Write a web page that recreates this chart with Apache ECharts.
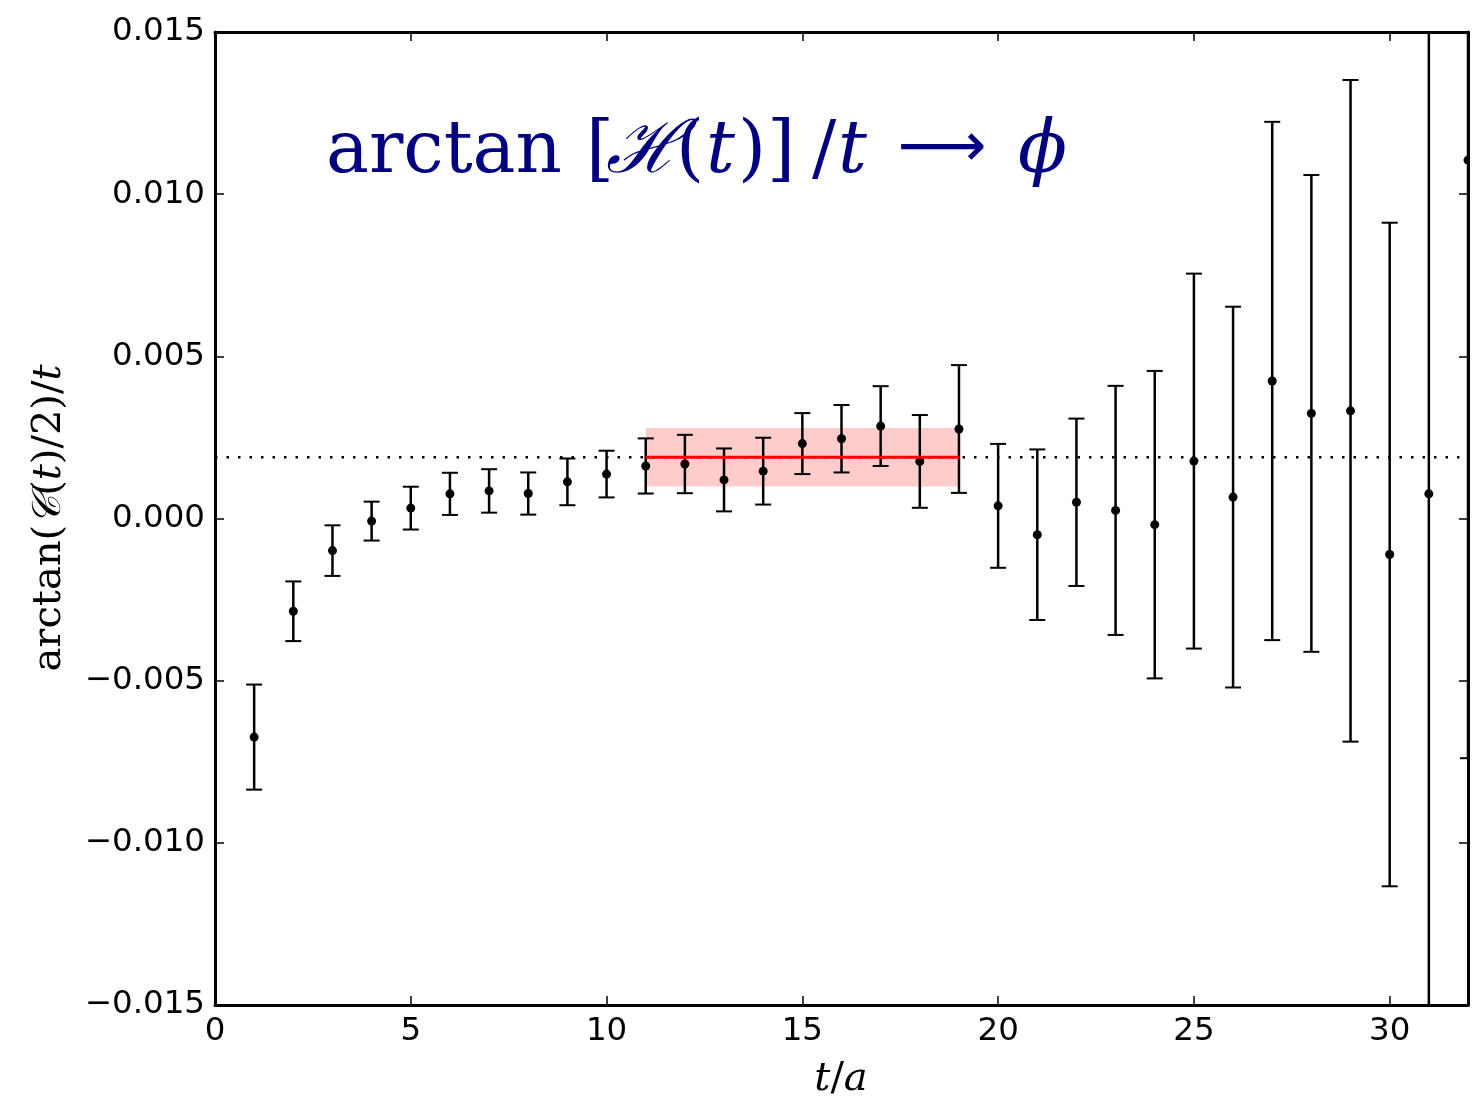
<!DOCTYPE html>
<html>
<head>
<meta charset="utf-8">
<script src="https://cdn.jsdelivr.net/npm/echarts@6/dist/echarts.min.js"></script>
<style>
  html, body { margin: 0; padding: 0; background: #fff; }
  #chart { width: 1481px; height: 1105px; }
</style>
</head>
<body>
<div id="chart"></div>
<script>
// Time slices t/a
const times = [1, 2, 3, 4, 5, 6, 7, 8, 9, 10, 11, 12, 13, 14, 15, 16,
               17, 18, 19, 20, 21, 22, 23, 24, 25, 26, 27, 28, 29, 30, 31, 32];
// arctan(C(t)/2)/t per time slice
const ratios = [-0.00674, -0.00286, -0.00099, -0.00008, 0.00032, 0.00076, 0.00085, 0.00077,
                0.00113, 0.00137, 0.00162, 0.00168, 0.00119, 0.00146, 0.00231, 0.00246,
                0.00285, 0.00176, 0.00276, 0.00039, -0.00050, 0.00050, 0.00025, -0.00019,
                0.00177, 0.00066, 0.00424, 0.00324, 0.00332, -0.00111, 0.00076, 0.01105];
// statistical errors
const errors = [0.00162, 0.00092, 0.00078, 0.00060, 0.00066, 0.00065, 0.00067, 0.00065,
                0.00072, 0.00072, 0.00085, 0.00090, 0.00097, 0.00103, 0.00094, 0.00104,
                0.00123, 0.00143, 0.00197, 0.00191, 0.00263, 0.00258, 0.00384, 0.00474,
                0.00578, 0.00587, 0.00799, 0.00735, 0.01020, 0.01023, 0.02000, 0.01844];

// plateau fit
const fitValue = 0.00189;
const fitError = 0.00090;
const fitRange = [11, 19];
const axisRangeX = [0, 32];
const axisRangeY = [-0.015, 0.015];

const points = times.map((t, i) => [t, ratios[i], errors[i]]);

function renderErrorBar(params, api) {
  const x = api.value(0), y = api.value(1), e = api.value(2);
  const hi = api.coord([x, y + e]);
  const lo = api.coord([x, y - e]);
  const mid = api.coord([x, y]);
  const cap = 8;
  const st = { stroke: '#000', lineWidth: 2.5 };
  const capSt = { stroke: '#000', lineWidth: 2 };
  return {
    type: 'group',
    children: [
      { type: 'line', shape: { x1: hi[0], y1: hi[1], x2: lo[0], y2: lo[1] }, style: st },
      { type: 'line', shape: { x1: hi[0] - cap, y1: hi[1], x2: hi[0] + cap, y2: hi[1] }, style: capSt },
      { type: 'line', shape: { x1: lo[0] - cap, y1: lo[1], x2: lo[0] + cap, y2: lo[1] }, style: capSt },
      { type: 'circle', shape: { cx: mid[0], cy: mid[1], r: 4.5 }, style: { fill: '#000' } }
    ]
  };
}

const fmtY = v => {
  const s = Math.abs(v).toFixed(3);
  return (v < -1e-9 ? '\u2212' : '') + s;
};

const tickFont = { fontFamily: 'DejaVu Sans', fontSize: 32.5, color: '#000' };
const spine = { show: true, onZero: false, lineStyle: { color: '#000', width: 3 } };
const ticksIn = { show: true, inside: true, length: 9, lineStyle: { color: '#000', width: 1.5 } };

// title pieces, laid out left to right along one baseline
const navy = '#000080';
const titleTop = 117;
function titlePiece(x, text, italic) {
  return {
    type: 'text', x: x, y: titleTop, z: 10,
    style: {
      text: text, fill: navy, verticalAlign: 'top',
      font: (italic ? 'italic ' : '') + '72px "DejaVu Serif"'
    }
  };
}

const chart = echarts.init(document.getElementById('chart'), null, { renderer: 'canvas' });
chart.setOption({
  animation: false,
  backgroundColor: '#fff',
  grid: { left: 215, right: 13, top: 32, bottom: 100, containLabel: false },
  xAxis: [
    {
      type: 'value', position: 'bottom', min: axisRangeX[0], max: axisRangeX[1], interval: 5,
      axisLine: spine, axisTick: ticksIn, splitLine: { show: false },
      axisLabel: Object.assign({ margin: 10, formatter: v => (v % 5 === 0 ? String(v) : '') }, tickFont)
    },
    {
      type: 'value', position: 'top', min: axisRangeX[0], max: axisRangeX[1], interval: 5,
      axisLine: spine, axisTick: ticksIn, splitLine: { show: false }, axisLabel: { show: false }
    }
  ],
  yAxis: [
    {
      type: 'value', position: 'left', min: axisRangeY[0], max: axisRangeY[1], interval: 0.005,
      axisLine: spine, axisTick: ticksIn, splitLine: { show: false },
      axisLabel: Object.assign({ margin: 10, formatter: fmtY }, tickFont)
    },
    {
      type: 'value', position: 'right', min: axisRangeY[0], max: axisRangeY[1], interval: 0.005,
      axisLine: spine, axisTick: ticksIn, splitLine: { show: false }, axisLabel: { show: false }
    }
  ],
  series: [
    {
      // fit band
      type: 'line', data: [], z: 1,
      markArea: {
        silent: true,
        itemStyle: { color: '#ffcccc' },
        data: [[{ coord: [fitRange[0], fitValue + fitError] }, { coord: [fitRange[1], fitValue - fitError] }]]
      }
    },
    {
      // fitted value across all t
      type: 'line', z: 2, symbol: 'none', silent: true,
      data: [[axisRangeX[0], fitValue], [axisRangeX[1], fitValue]],
      lineStyle: { color: '#000', width: 2.5, type: [2.5, 9] }
    },
    {
      type: 'custom', z: 3, clip: true, silent: true,
      renderItem: renderErrorBar,
      encode: { x: 0, y: 1 },
      data: points
    },
    {
      // fitted value over the fit window
      type: 'line', z: 4, symbol: 'none', silent: true,
      data: [[fitRange[0], fitValue], [fitRange[1], fitValue]],
      lineStyle: { color: '#ff0000', width: 3 }
    }
  ],
  graphic: [
    titlePiece(326, 'arctan', false),
    titlePiece(586, '[', false),
    titlePiece(606, '\u210B', true),
    titlePiece(676, '(', false),
    titlePiece(706, 't', true),
    titlePiece(738, ')', false),
    titlePiece(767, ']', false),
    titlePiece(812, '/', false),
    titlePiece(838, 't', true),
    {
      type: 'text', x: 942, y: 150, z: 10,
      style: {
        text: '\u27F6', fill: navy, align: 'center', verticalAlign: 'middle',
        font: '62px "DejaVu Sans"'
      }
    },
    titlePiece(1018, '\u03D5', true),
    {
      type: 'text', x: 50, y: 518, rotation: Math.PI / 2, z: 10,
      style: {
        text: '{r|arctan(}{c|\uD835\uDC9E}{r|(}{i|t}{r|)/2)/}{i|t}',
        align: 'center', verticalAlign: 'middle',
        rich: {
          r: { fontFamily: 'DejaVu Serif', fontSize: 40, fill: '#000' },
          i: { fontFamily: 'DejaVu Serif', fontStyle: 'italic', fontSize: 40, fill: '#000' },
          c: { fontFamily: 'DejaVu Serif', fontStyle: 'italic', fontSize: 40, fill: '#000' }
        }
      }
    },
    {
      type: 'text', x: 841, y: 1080, z: 10,
      style: {
        text: '{i|t}{r|/}{i|a}',
        align: 'center', verticalAlign: 'middle',
        rich: {
          r: { fontFamily: 'DejaVu Serif', fontSize: 40, fill: '#000' },
          i: { fontFamily: 'DejaVu Serif', fontStyle: 'italic', fontSize: 40, fill: '#000' }
        }
      }
    }
  ]
});
</script>
</body>
</html>
